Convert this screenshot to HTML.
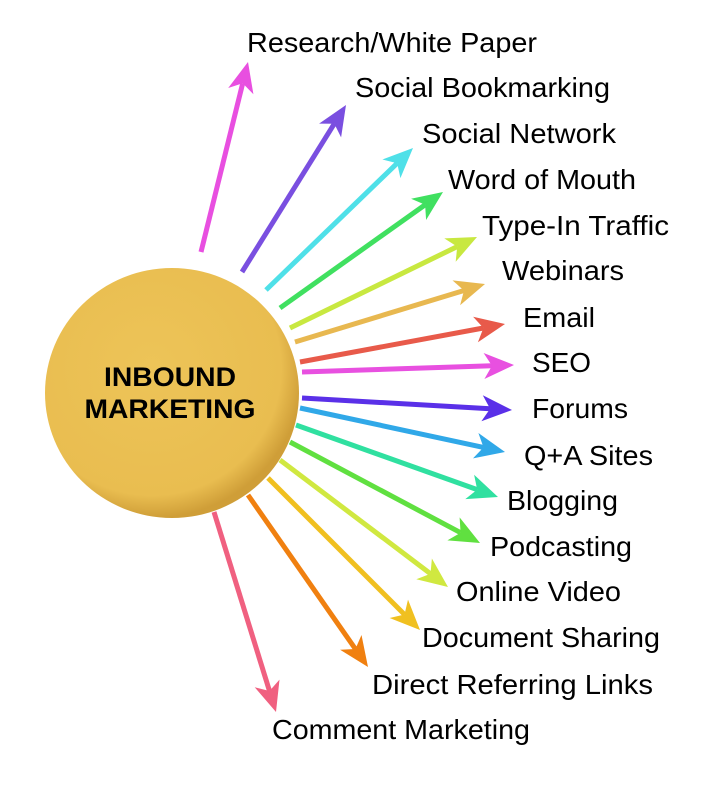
<!DOCTYPE html>
<html><head><style>
html,body{margin:0;padding:0;background:#fff;}
svg{display:block;}
text{font-family:"Liberation Sans",sans-serif;}
</style></head><body>
<svg width="703" height="800" viewBox="0 0 703 800" xmlns="http://www.w3.org/2000/svg">
<defs>
<radialGradient id="g" cx="0.42" cy="0.4" r="0.6">
<stop offset="0" stop-color="#edc458"/>
<stop offset="0.85" stop-color="#e9bd50"/>
<stop offset="1" stop-color="#cf9e38"/>
</radialGradient>
</defs>
<ellipse cx="172" cy="393" rx="127" ry="125" fill="url(#g)"/>
<text x="170" y="386" font-size="27" font-weight="bold" text-anchor="middle" textLength="132" lengthAdjust="spacingAndGlyphs">INBOUND</text>
<text x="170" y="418" font-size="27" font-weight="bold" text-anchor="middle" textLength="171" lengthAdjust="spacingAndGlyphs">MARKETING</text>
<g stroke-width="5" stroke-linecap="butt">
<line x1="201" y1="252" x2="242.7" y2="83.3" stroke="#e84fe0"/><polygon points="248,62 253.4,94.2 242.7,83.3 228.2,88" fill="#e84fe0"/>
<line x1="242" y1="272" x2="334.3" y2="123.7" stroke="#7a4fe0"/><polygon points="346,105 341.1,137.4 334.3,123.7 319.1,123.6" fill="#7a4fe0"/>
<line x1="266" y1="290" x2="397.2" y2="163.2" stroke="#4fe0e8"/><polygon points="413,148 400.4,178.1 397.2,163.2 382.4,159.5" fill="#4fe0e8"/>
<line x1="280" y1="308" x2="425.1" y2="204.8" stroke="#40e060"/><polygon points="443,192 426.1,220 425.1,204.8 411.1,198.8" fill="#40e060"/>
<line x1="290" y1="328" x2="457.2" y2="246.6" stroke="#c8e840"/><polygon points="477,237 455.7,261.8 457.2,246.6 444.3,238.4" fill="#c8e840"/>
<line x1="295" y1="342" x2="464" y2="290.5" stroke="#e8b850"/><polygon points="485,284 460.1,305.2 464,290.5 452.5,280.4" fill="#e8b850"/>
<line x1="300" y1="362" x2="483.4" y2="328" stroke="#e85a4a"/><polygon points="505,324 477.9,342.3 483.4,328 473.1,316.7" fill="#e85a4a"/>
<line x1="302" y1="372" x2="492" y2="365.7" stroke="#e850e0"/><polygon points="514,365 484.4,379 492,365.7 483.6,353" fill="#e850e0"/>
<line x1="302" y1="398" x2="490.1" y2="408.8" stroke="#5a30e8"/><polygon points="512,410 481.4,421.3 490.1,408.8 482.8,395.3" fill="#5a30e8"/>
<line x1="300" y1="408" x2="483.5" y2="447.4" stroke="#30a8e8"/><polygon points="505,452 473,458.4 483.5,447.4 478.4,433" fill="#30a8e8"/>
<line x1="296" y1="425" x2="477.2" y2="489.6" stroke="#30e0a0"/><polygon points="498,497 465.3,499.1 477.2,489.6 474.1,474.7" fill="#30e0a0"/>
<line x1="290" y1="442" x2="460.6" y2="532.7" stroke="#60e040"/><polygon points="480,543 447.4,540.4 460.6,532.7 459.6,517.4" fill="#60e040"/>
<line x1="280" y1="460" x2="430.5" y2="573.7" stroke="#d0e840"/><polygon points="448,587 416.3,579.3 430.5,573.7 431.9,558.5" fill="#d0e840"/>
<line x1="268" y1="478" x2="404.5" y2="614.5" stroke="#f0c020"/><polygon points="420,630 389.6,618 404.5,614.5 408,599.6" fill="#f0c020"/>
<line x1="248" y1="495" x2="355.4" y2="649" stroke="#f08010"/><polygon points="368,667 340.1,649.8 355.4,649 361.5,635" fill="#f08010"/>
<line x1="214" y1="512" x2="269.5" y2="691" stroke="#f06080"/><polygon points="276,712 254.7,687.2 269.5,691 279.5,679.6" fill="#f06080"/>
</g>
<g font-size="28" fill="#000">
<text x="247" y="52" textLength="290" lengthAdjust="spacingAndGlyphs">Research/White Paper</text>
<text x="355" y="97" textLength="255" lengthAdjust="spacingAndGlyphs">Social Bookmarking</text>
<text x="422" y="143" textLength="194" lengthAdjust="spacingAndGlyphs">Social Network</text>
<text x="448" y="189" textLength="188" lengthAdjust="spacingAndGlyphs">Word of Mouth</text>
<text x="482" y="235" textLength="187" lengthAdjust="spacingAndGlyphs">Type-In Traffic</text>
<text x="502" y="280" textLength="122" lengthAdjust="spacingAndGlyphs">Webinars</text>
<text x="523" y="327" textLength="72" lengthAdjust="spacingAndGlyphs">Email</text>
<text x="532" y="372" textLength="59" lengthAdjust="spacingAndGlyphs">SEO</text>
<text x="532" y="418" textLength="96" lengthAdjust="spacingAndGlyphs">Forums</text>
<text x="524" y="465" textLength="129" lengthAdjust="spacingAndGlyphs">Q+A Sites</text>
<text x="507" y="510" textLength="111" lengthAdjust="spacingAndGlyphs">Blogging</text>
<text x="490" y="556" textLength="142" lengthAdjust="spacingAndGlyphs">Podcasting</text>
<text x="456" y="601" textLength="165" lengthAdjust="spacingAndGlyphs">Online Video</text>
<text x="422" y="647" textLength="238" lengthAdjust="spacingAndGlyphs">Document Sharing</text>
<text x="372" y="694" textLength="281" lengthAdjust="spacingAndGlyphs">Direct Referring Links</text>
<text x="272" y="739" textLength="258" lengthAdjust="spacingAndGlyphs">Comment Marketing</text>
</g>
</svg>
</body></html>
